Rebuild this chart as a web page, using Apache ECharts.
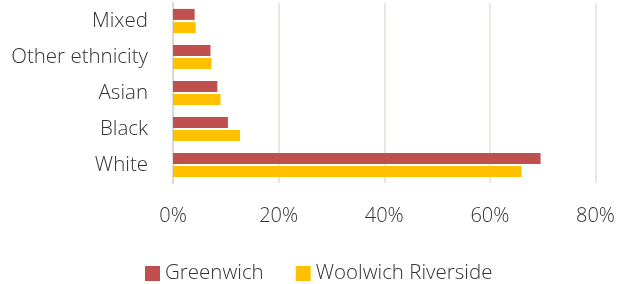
<!DOCTYPE html>
<html>
<head>
<meta charset="utf-8">
<script src="https://cdn.jsdelivr.net/npm/echarts@6/dist/echarts.min.js"></script>
<style>
html, body { margin: 0; padding: 0; background: #fff; }
#chart { width: 618px; height: 284px; }
</style>
</head>
<body>
<div id="chart"></div>
<script>
var categories = ["Mixed", "Other ethnicity", "Asian", "Black", "White"];
var greenwich = [4.1, 7.1, 8.4, 10.4, 69.6];
var woolwich = [4.3, 7.3, 9.0, 12.7, 66.0];
var xTicks = [0, 20, 40, 60, 80];

var chart = echarts.init(document.getElementById("chart"));
var font = "'Open Sans', 'DejaVu Sans', sans-serif";
var option = {
    animation: false,
    textStyle: { fontFamily: font },
    legend: {
        data: ["Greenwich", "Woolwich Riverside"],
        left: 140,
        top: 258,
        icon: "rect",
        itemWidth: 15,
        itemHeight: 15,
        itemGap: 32,
        textStyle: { fontSize: 20.5, color: "#333", fontFamily: font, fontWeight: 300 }
    },
    grid: {
        left: 173,
        right: 21,
        top: 3,
        bottom: 101
    },
    xAxis: {
        type: "value",
        min: xTicks[0],
        max: xTicks[xTicks.length - 1],
        interval: 20,
        axisLabel: {
            formatter: "{value}%",
            fontSize: 20,
            color: "#333",
            margin: 23,
            fontFamily: font,
            fontWeight: 300
        },
        splitLine: { lineStyle: { color: "#EBE8DF", width: 2 } },
        axisLine: { show: false },
        axisTick: { show: false }
    },
    yAxis: {
        type: "category",
        inverse: true,
        data: categories,
        axisLabel: {
            fontSize: 20.5,
            color: "#333",
            margin: 25,
            fontFamily: font,
            fontWeight: 300
        },
        axisLine: { show: true, lineStyle: { color: "#D9D9D9", width: 2 } },
        axisTick: { show: false }
    },
    series: [
        {
            name: "Greenwich",
            type: "bar",
            data: greenwich,
            barWidth: 11,
            barGap: "20%",
            itemStyle: { color: "#C0504D" }
        },
        {
            name: "Woolwich Riverside",
            type: "bar",
            data: woolwich,
            barWidth: 11,
            itemStyle: { color: "#FFC000" }
        }
    ]
};
chart.setOption(option);
</script>
</body>
</html>
